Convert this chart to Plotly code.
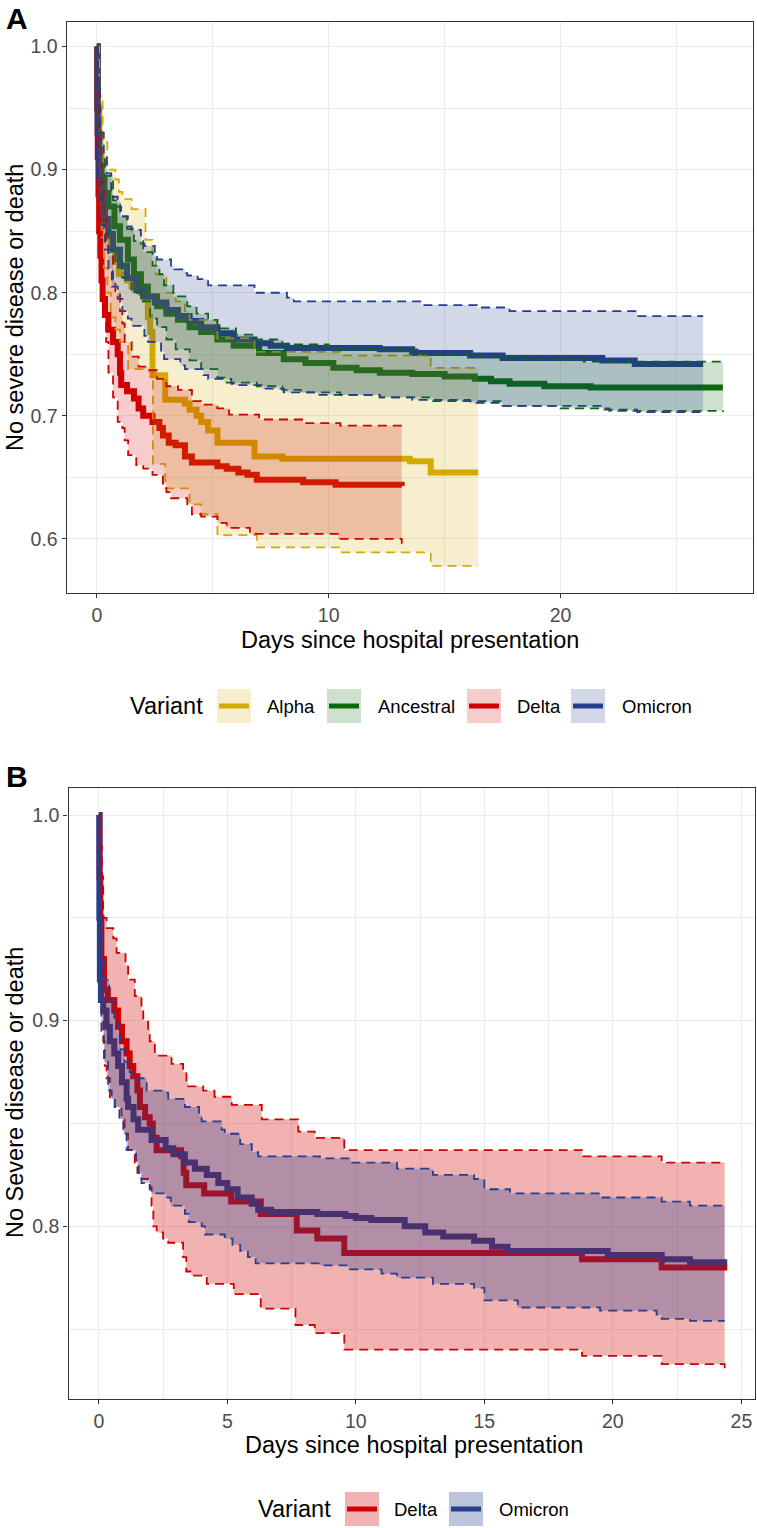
import plotly.graph_objects as go

# ---------------- Panel A data ----------------
variants_a = ["Alpha", "Ancestral", "Delta", "Omicron"]
colors_a = {"Alpha": "#D4AC00", "Ancestral": "#0B6B0B", "Delta": "#D10000", "Omicron": "#243E8C"}

alpha_est_t = [0, 0.05, 0.1, 0.2, 0.35, 0.5, 0.6, 0.8, 0.95, 1.3, 1.5, 1.9, 2.1, 2.2, 2.3, 2.4, 2.95, 3.8, 4.0, 4.3, 4.5, 4.8, 5.2, 6.8, 8.0, 13.5, 14.4, 16.45]
alpha_est_s = [1.0, 0.95, 0.91, 0.88, 0.86, 0.845, 0.835, 0.825, 0.815, 0.81, 0.805, 0.80, 0.794, 0.78, 0.768, 0.733, 0.713, 0.710, 0.705, 0.70, 0.695, 0.688, 0.678, 0.667, 0.665, 0.663, 0.654, 0.654]
alpha_lo_t = [0, 0.03, 0.1, 0.2, 0.3, 0.45, 0.6, 0.8, 1.0, 1.35, 2.42, 2.95, 4.0, 4.5, 5.2, 6.9, 10.5, 14.4, 16.45]
alpha_lo_s = [1.0, 0.93, 0.87, 0.845, 0.82, 0.80, 0.78, 0.77, 0.76, 0.738, 0.661, 0.641, 0.628, 0.62, 0.603, 0.593, 0.589, 0.578, 0.578]
alpha_hi_t = [0, 0.1, 0.25, 0.45, 0.8, 0.95, 1.1, 1.5, 2.1, 2.4, 2.55, 3.0, 3.4, 3.8, 4.0, 5.2, 6.8, 10.5, 14.4, 16.45]
alpha_hi_s = [1.0, 0.96, 0.925, 0.9, 0.892, 0.882, 0.876, 0.868, 0.843, 0.83, 0.815, 0.80, 0.793, 0.785, 0.778, 0.763, 0.752, 0.749, 0.739, 0.739]

anc_est_t = [0, 0.03, 0.06, 0.1, 0.2, 0.33, 0.5, 0.76, 1.0, 1.34, 1.6, 1.9, 2.2, 2.6, 3.0, 3.5, 4.0, 4.5, 5.2, 5.9, 7.0, 8.06, 9.0, 10.2, 11.2, 12.2, 13.6, 15.0, 16.3, 17.0, 17.8, 19.3, 21.3, 27.0]
anc_est_s = [1.0, 0.95, 0.92, 0.903, 0.892, 0.881, 0.87, 0.854, 0.843, 0.827, 0.815, 0.805, 0.797, 0.789, 0.783, 0.778, 0.772, 0.768, 0.762, 0.757, 0.751, 0.746, 0.743, 0.739, 0.737, 0.735, 0.734, 0.732, 0.730, 0.728, 0.726, 0.724, 0.723, 0.723]
anc_lo_t = [0, 0.03, 0.08, 0.2, 0.3, 0.5, 0.8, 1.1, 1.5, 1.9, 2.3, 2.6, 3.0, 3.4, 4.0, 4.5, 5.2, 5.5, 6.9, 8.0, 8.8, 10.5, 12.2, 14.5, 17.5, 20.0, 22.1, 27.0]
anc_lo_s = [1.0, 0.93, 0.89, 0.87, 0.85, 0.835, 0.825, 0.812, 0.80, 0.793, 0.779, 0.772, 0.762, 0.754, 0.745, 0.738, 0.731, 0.727, 0.724, 0.721, 0.719, 0.717, 0.715, 0.712, 0.708, 0.706, 0.704, 0.703]
anc_hi_t = [0, 0.05, 0.1, 0.2, 0.35, 0.7, 1.0, 1.3, 1.6, 2.0, 2.4, 2.7, 2.9, 3.3, 3.9, 4.3, 4.8, 5.2, 6.0, 6.8, 8.0, 10.0, 12.2, 14.0, 16.5, 18.0, 21.0, 27.0]
anc_hi_s = [1.0, 0.96, 0.93, 0.91, 0.895, 0.875, 0.862, 0.852, 0.842, 0.833, 0.822, 0.815, 0.806, 0.797, 0.789, 0.783, 0.778, 0.771, 0.766, 0.762, 0.758, 0.755, 0.754, 0.750, 0.748, 0.746, 0.744, 0.743]

delta_est_t = [0, 0.02, 0.04, 0.07, 0.1, 0.15, 0.2, 0.25, 0.35, 0.5, 0.7, 0.9, 1.0, 1.05, 1.3, 1.6, 1.8, 2.0, 2.4, 2.7, 2.85, 3.1, 3.4, 3.8, 4.1, 5.2, 5.6, 6.1, 6.5, 6.9, 8.9, 10.3, 13.15]
delta_est_s = [1.0, 0.95, 0.91, 0.88, 0.85, 0.83, 0.81, 0.795, 0.782, 0.77, 0.76, 0.75, 0.735, 0.725, 0.72, 0.714, 0.706, 0.70, 0.695, 0.69, 0.684, 0.678, 0.676, 0.667, 0.662, 0.659, 0.657, 0.654, 0.652, 0.648, 0.646, 0.644, 0.643]
delta_lo_t = [0, 0.02, 0.05, 0.1, 0.2, 0.3, 0.4, 0.5, 0.7, 0.9, 1.1, 1.2, 1.35, 1.7, 2.0, 2.4, 2.85, 3.0, 3.2, 3.9, 4.1, 4.5, 5.2, 5.6, 6.6, 10.4, 13.15]
delta_lo_s = [1.0, 0.92, 0.87, 0.83, 0.80, 0.785, 0.76, 0.735, 0.715, 0.695, 0.69, 0.68, 0.668, 0.66, 0.657, 0.652, 0.645, 0.638, 0.633, 0.628, 0.62, 0.618, 0.613, 0.609, 0.604, 0.600, 0.596]
delta_hi_t = [0, 0.05, 0.1, 0.15, 0.2, 0.3, 0.4, 0.5, 0.7, 0.8, 1.0, 1.1, 1.2, 1.5, 1.8, 2.2, 2.6, 3.0, 3.5, 4.1, 4.5, 5.2, 5.7, 7.0, 8.9, 10.5, 13.15]
delta_hi_s = [1.0, 0.975, 0.95, 0.92, 0.89, 0.865, 0.84, 0.83, 0.81, 0.80, 0.785, 0.775, 0.76, 0.748, 0.74, 0.737, 0.73, 0.724, 0.721, 0.712, 0.709, 0.706, 0.701, 0.697, 0.694, 0.692, 0.692]

omi_est_t = [0, 0.03, 0.1, 0.2, 0.35, 0.5, 0.7, 1.0, 1.3, 1.7, 2.0, 2.5, 3.0, 3.5, 4.0, 4.5, 5.2, 5.9, 6.8, 7.5, 8.2, 12.2, 13.6, 16.1, 17.5, 21.8, 23.2, 26.15]
omi_est_s = [1.0, 0.93, 0.895, 0.88, 0.86, 0.848, 0.835, 0.822, 0.812, 0.802, 0.797, 0.792, 0.786, 0.781, 0.777, 0.772, 0.767, 0.762, 0.759, 0.757, 0.755, 0.754, 0.751, 0.749, 0.747, 0.745, 0.742, 0.742]
omi_lo_t = [0, 0.02, 0.06, 0.12, 0.2, 0.35, 0.5, 0.65, 0.9, 1.1, 1.34, 1.5, 2.05, 2.2, 2.77, 2.9, 3.6, 3.8, 4.6, 4.8, 5.8, 5.9, 7.1, 8.06, 9.5, 12.2, 13.6, 16.1, 17.4, 21.8, 23.3, 26.15]
omi_lo_s = [1.0, 0.93, 0.89, 0.87, 0.855, 0.835, 0.82, 0.805, 0.795, 0.785, 0.779, 0.773, 0.765, 0.76, 0.752, 0.746, 0.741, 0.738, 0.733, 0.73, 0.726, 0.725, 0.722, 0.719, 0.717, 0.715, 0.713, 0.7105, 0.708, 0.705, 0.703, 0.703]
omi_hi_t = [0, 0.05, 0.14, 0.3, 0.43, 0.62, 0.9, 1.05, 1.34, 1.5, 1.9, 2.05, 2.5, 2.6, 3.2, 3.35, 3.8, 3.9, 4.35, 4.8, 6.8, 8.2, 8.5, 14.0, 16.4, 17.8, 23.3, 26.15]
omi_hi_s = [1.0, 0.97, 0.93, 0.91, 0.897, 0.878, 0.87, 0.862, 0.854, 0.851, 0.84, 0.838, 0.83, 0.827, 0.822, 0.819, 0.816, 0.814, 0.811, 0.806, 0.8, 0.796, 0.793, 0.79, 0.788, 0.785, 0.781, 0.781]

# ---------------- Panel B data ----------------
variants_b = ["Delta", "Omicron"]
colors_b = {"Delta": "#D10000", "Omicron": "#263F8F"}

b_delta_est_t = [0, 0.03, 0.06, 0.1, 0.2, 0.35, 0.6, 0.75, 0.9, 1.08, 1.2, 1.34, 1.5, 1.6, 1.8, 1.98, 2.1, 2.25, 3.2, 3.3, 3.4, 4.1, 5.15, 6.3, 7.7, 8.5, 9.55, 18.8, 21.9, 24.45]
b_delta_est_s = [1.0, 0.97, 0.95, 0.93, 0.915, 0.91, 0.905, 0.897, 0.89, 0.884, 0.878, 0.873, 0.866, 0.858, 0.853, 0.85, 0.843, 0.837, 0.834, 0.826, 0.82, 0.816, 0.812, 0.806, 0.798, 0.794, 0.787, 0.784, 0.780, 0.780]
b_delta_lo_t = [0, 0.02, 0.05, 0.1, 0.17, 0.23, 0.3, 0.43, 0.62, 0.88, 1.0, 1.14, 1.4, 1.5, 1.66, 1.98, 2.05, 2.12, 2.25, 2.5, 2.7, 3.28, 3.4, 3.6, 4.2, 5.25, 6.3, 7.65, 8.4, 9.55, 18.8, 21.9, 24.35]
b_delta_lo_s = [1.0, 0.97, 0.93, 0.91, 0.89, 0.878, 0.872, 0.862, 0.858, 0.852, 0.845, 0.837, 0.831, 0.826, 0.823, 0.819, 0.81, 0.80, 0.797, 0.794, 0.792, 0.785, 0.778, 0.776, 0.772, 0.767, 0.76, 0.752, 0.748, 0.74, 0.737, 0.733, 0.73]
b_delta_hi_t = [0, 0.06, 0.12, 0.17, 0.3, 0.56, 0.69, 1.04, 1.14, 1.4, 1.66, 1.73, 1.92, 1.98, 2.18, 2.3, 2.83, 3.28, 3.41, 3.48, 4.06, 4.5, 5.17, 6.34, 7.76, 8.4, 9.55, 18.8, 21.9, 24.35]
b_delta_hi_s = [1.0, 0.985, 0.97, 0.95, 0.945, 0.94, 0.933, 0.927, 0.92, 0.912, 0.905, 0.9, 0.896, 0.89, 0.884, 0.883, 0.879, 0.875, 0.87, 0.868, 0.866, 0.863, 0.859, 0.852, 0.846, 0.843, 0.837, 0.834, 0.831, 0.831]

b_omi_est_t = [0, 0.02, 0.04, 0.08, 0.17, 0.3, 0.43, 0.6, 0.75, 0.9, 1.08, 1.14, 1.35, 1.53, 2.05, 2.6, 2.9, 3.35, 3.74, 4.2, 4.65, 5.0, 5.4, 5.95, 6.2, 6.7, 8.5, 9.6, 10.0, 10.6, 11.9, 12.7, 13.4, 14.6, 15.3, 15.9, 19.8, 21.9, 23.0, 24.45]
b_omi_est_s = [1.0, 0.95, 0.92, 0.91, 0.905, 0.897, 0.89, 0.884, 0.878, 0.87, 0.862, 0.858, 0.852, 0.847, 0.842, 0.838, 0.835, 0.831, 0.828, 0.825, 0.821, 0.818, 0.814, 0.811, 0.808, 0.807, 0.806, 0.805, 0.804, 0.803, 0.8, 0.797, 0.795, 0.793, 0.79, 0.788, 0.786, 0.784, 0.7825, 0.7825]
b_omi_lo_t = [0, 0.02, 0.05, 0.1, 0.2, 0.36, 0.5, 0.62, 0.8, 0.95, 1.08, 1.45, 1.55, 1.66, 1.98, 2.05, 2.6, 2.8, 3.35, 3.5, 4.0, 4.13, 4.9, 5.2, 5.5, 5.8, 6.1, 8.6, 9.7, 11.0, 11.6, 13.0, 14.6, 15.0, 16.3, 19.5, 21.7, 21.9, 23.0, 24.35]
b_omi_lo_s = [1.0, 0.95, 0.91, 0.895, 0.88, 0.866, 0.862, 0.858, 0.852, 0.845, 0.837, 0.832, 0.826, 0.821, 0.818, 0.816, 0.814, 0.81, 0.806, 0.802, 0.8, 0.796, 0.794, 0.791, 0.788, 0.785, 0.782, 0.781, 0.779, 0.777, 0.775, 0.772, 0.77, 0.764, 0.7605, 0.759, 0.757, 0.755, 0.754, 0.754]
b_omi_hi_t = [0, 0.03, 0.08, 0.2, 0.4, 0.6, 0.75, 0.85, 1.0, 1.2, 1.3, 1.86, 2.6, 2.7, 3.35, 3.9, 4.0, 4.78, 4.9, 5.5, 5.95, 6.2, 8.6, 9.8, 11.6, 13.0, 14.6, 15.0, 16.0, 19.5, 21.9, 23.0, 24.35]
b_omi_hi_s = [1.0, 0.96, 0.93, 0.92, 0.91, 0.9, 0.893, 0.886, 0.88, 0.875, 0.872, 0.866, 0.865, 0.862, 0.858, 0.854, 0.851, 0.847, 0.845, 0.84, 0.836, 0.834, 0.833, 0.831, 0.828, 0.825, 0.823, 0.818, 0.816, 0.814, 0.812, 0.810, 0.810]

x_ticks_a = [0, 10, 20]
y_ticks_a = [0.6, 0.7, 0.8, 0.9, 1.0]
x_ticks_b = [0, 5, 10, 15, 20, 25]
y_ticks_b = [0.8, 0.9, 1.0]

series_a = {
    "Alpha": (alpha_est_t, alpha_est_s, alpha_lo_t, alpha_lo_s, alpha_hi_t, alpha_hi_s),
    "Ancestral": (anc_est_t, anc_est_s, anc_lo_t, anc_lo_s, anc_hi_t, anc_hi_s),
    "Delta": (delta_est_t, delta_est_s, delta_lo_t, delta_lo_s, delta_hi_t, delta_hi_s),
    "Omicron": (omi_est_t, omi_est_s, omi_lo_t, omi_lo_s, omi_hi_t, omi_hi_s),
}
series_b = {
    "Delta": (b_delta_est_t, b_delta_est_s, b_delta_lo_t, b_delta_lo_s, b_delta_hi_t, b_delta_hi_s),
    "Omicron": (b_omi_est_t, b_omi_est_s, b_omi_lo_t, b_omi_lo_s, b_omi_hi_t, b_omi_hi_s),
}


def rgba(hexc, a):
    h = hexc.lstrip("#")
    r, g, b = int(h[0:2], 16), int(h[2:4], 16), int(h[4:6], 16)
    return f"rgba({r},{g},{b},{a})"


W, H = 757, 1528
FONT = "Liberation Sans, Arial, sans-serif"

fig = go.Figure()


def add_panel(series, colors, xa, ya, alpha, est_w, dash_w):
    for name, (et, es, lt, ls, ht, hs) in series.items():
        fig.add_trace(go.Scatter(x=et, y=es, mode="lines", line=dict(color=colors[name], width=est_w, shape="hv"),
                                 xaxis=xa, yaxis=ya, showlegend=False, hoverinfo="skip"))
    for name, (et, es, lt, ls, ht, hs) in series.items():
        fig.add_trace(go.Scatter(x=lt, y=ls, mode="lines",
                                 line=dict(color=colors[name], width=dash_w, shape="hv", dash="9px,6px"),
                                 xaxis=xa, yaxis=ya, showlegend=False, hoverinfo="skip"))
        fig.add_trace(go.Scatter(x=ht, y=hs, mode="lines", fill="tonexty", fillcolor=rgba(colors[name], alpha),
                                 line=dict(color=colors[name], width=dash_w, shape="hv", dash="9px,6px"),
                                 xaxis=xa, yaxis=ya, showlegend=False, hoverinfo="skip"))


add_panel(series_a, colors_a, "x", "y", 0.2, 6, 1.8)
add_panel(series_b, colors_b, "x2", "y2", 0.3, 6, 1.8)

grid = "#EBEBEB"
axis_common = dict(showline=True, linecolor="#333333", linewidth=1.3, mirror=True, ticks="outside",
                   ticklen=4, tickwidth=1, tickcolor="#333333", showgrid=True, gridcolor=grid, gridwidth=1.2,
                   zeroline=False, tickfont=dict(family=FONT, size=19.5, color="#4D4D4D"))


def px(x):
    return x / W


def py(y):
    return 1 - y / H


fig.update_layout(
    width=W, height=H, margin=dict(l=0, r=0, t=0, b=0, autoexpand=False),
    paper_bgcolor="white", plot_bgcolor="white", showlegend=False,
    font=dict(family=FONT, color="black"),
    xaxis=dict(domain=[px(66.7), px(753)], range=[-1.3, 28.3], anchor="y", tickvals=x_ticks_a,
               minor=dict(showgrid=True, gridcolor=grid, gridwidth=0.6, tick0=0, dtick=5), **axis_common),
    yaxis=dict(domain=[py(593), py(22)], range=[0.556, 1.020], anchor="x", tickvals=y_ticks_a, tickformat=".1f",
               minor=dict(showgrid=True, gridcolor=grid, gridwidth=0.6, tick0=0, dtick=0.05), **axis_common),
    xaxis2=dict(domain=[px(68.5), px(755)], range=[-1.18, 25.53], anchor="y2", tickvals=x_ticks_b,
                minor=dict(showgrid=True, gridcolor=grid, gridwidth=0.6, tick0=0, dtick=2.5), **axis_common),
    yaxis2=dict(domain=[py(1399), py(787.7)], range=[0.716, 1.0133], anchor="x2", tickvals=y_ticks_b,
                tickformat=".1f",
                minor=dict(showgrid=True, gridcolor=grid, gridwidth=0.6, tick0=0, dtick=0.05), **axis_common),
)

ann = []
shapes = []
TITLE = 23.5
LEG = 18.5

ann.append(dict(text="<b>A</b>", x=px(4), y=py(19), xanchor="left", yanchor="middle", showarrow=False,
                xref="paper", yref="paper", font=dict(family=FONT, size=30, color="black")))
ann.append(dict(text="<b>B</b>", x=px(4), y=py(777), xanchor="left", yanchor="middle", showarrow=False,
                xref="paper", yref="paper", font=dict(family=FONT, size=30, color="black")))

ann.append(dict(text="Days since hospital presentation", x=px(410), y=py(640), xanchor="center", yanchor="middle",
                showarrow=False, xref="paper", yref="paper", font=dict(family=FONT, size=TITLE, color="black")))
ann.append(dict(text="No severe disease or death", x=px(15), y=py(308), xanchor="center", yanchor="middle",
                textangle=-90, showarrow=False, xref="paper", yref="paper",
                font=dict(family=FONT, size=TITLE, color="black")))
ann.append(dict(text="Days since hospital presentation", x=px(414), y=py(1445), xanchor="center", yanchor="middle",
                showarrow=False, xref="paper", yref="paper", font=dict(family=FONT, size=TITLE, color="black")))
ann.append(dict(text="No Severe disease or death", x=px(15), y=py(1093), xanchor="center", yanchor="middle",
                textangle=-90, showarrow=False, xref="paper", yref="paper",
                font=dict(family=FONT, size=TITLE, color="black")))


def legend(names, colors, alpha, title_x, key_xs, text_xs, yc, key=34):
    ann.append(dict(text="Variant", x=px(title_x), y=py(yc), xanchor="left", yanchor="middle", showarrow=False,
                    xref="paper", yref="paper", font=dict(family=FONT, size=TITLE, color="black")))
    for name, kx, tx in zip(names, key_xs, text_xs):
        shapes.append(dict(type="rect", xref="paper", yref="paper", x0=px(kx), x1=px(kx + key),
                           y0=py(yc + key / 2), y1=py(yc - key / 2), line=dict(width=0),
                           fillcolor=rgba(colors[name], alpha), layer="above"))
        shapes.append(dict(type="line", xref="paper", yref="paper", x0=px(kx + 2), x1=px(kx + key - 2),
                           y0=py(yc), y1=py(yc), line=dict(color=colors[name], width=5), layer="above"))
        ann.append(dict(text=name, x=px(tx), y=py(yc), xanchor="left", yanchor="middle", showarrow=False,
                        xref="paper", yref="paper", font=dict(family=FONT, size=LEG, color="black")))


legend(variants_a, colors_a, 0.2, 128, [217, 327, 467, 571], [265, 376, 515, 620], 706)
legend(variants_b, colors_b, 0.3, 256, [345, 449], [392, 497], 1509)

fig.update_layout(annotations=ann, shapes=shapes)
fig.write_html("out.html", config={"displayModeBar": False},
               post_script="document.body.style.margin='0';document.body.style.overflow='hidden';")
